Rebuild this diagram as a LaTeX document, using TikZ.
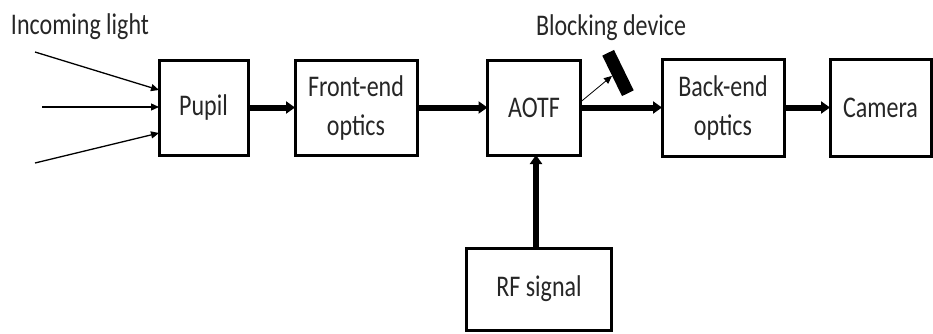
\documentclass[tikz,border=0pt]{standalone}
\usepackage{fontspec}
\setmainfont{Carlito}[FakeStretch=0.8]
\usetikzlibrary{arrows.meta}
\begin{document}
\begin{tikzpicture}[x=1pt,y=-1pt,
  blk/.style={draw=black,line width=3pt,minimum width=#1,inner sep=0pt,outer sep=0pt,align=center,font=\fontsize{30}{39}\selectfont,text=black!85},
  thick arr/.style={line width=6pt,-{Triangle[length=9pt,width=12pt]}},
  thin arr/.style={line width=1.3pt,-{Triangle[length=8pt,width=7pt]}},
  lbl/.style={font=\fontsize{30}{36}\selectfont,text=black!85,inner sep=0pt}]
\useasboundingbox (0,0) rectangle (933,333);
\node[blk=89pt,minimum height=95pt] (pupil) at (203.5,107.5) {Pupil};
\node[blk=122pt,minimum height=95pt] (front) at (356,107.5) {Front-end\\optics};
\node[blk=93pt,minimum height=95pt] (aotf) at (534,107.5) {AOTF};
\node[blk=122pt,minimum height=97pt] (back) at (723,107.5) {Back-end\\optics};
\node[blk=101pt,minimum height=97pt] (camera) at (880.5,107.5) {Camera};
\node[blk=145pt,minimum height=82pt] (rf) at (539,289) {RF signal};
\node[lbl] (inc) at (80,27) {Incoming light};
\node[lbl] (blab) at (611,28) {Blocking device};
\node[fill=black,minimum width=45pt,minimum height=13pt,inner sep=0pt,rotate=-64] (block) at (618,73) {};
\coordinate (s1) at (35,52);
\coordinate (s2) at (42,107);
\coordinate (s3) at (35,163);
\draw[thin arr] (s1) -- (pupil.west |- 0,90);
\draw[thin arr] (s2) -- (pupil.west |- 0,107);
\draw[thin arr] (s3) -- (pupil.west |- 0,133);
\draw[thick arr] (pupil.east) -- (front.west);
\draw[thick arr] (front.east) -- (aotf.west);
\draw[thick arr] (aotf.east) -- (back.west);
\draw[thick arr] (back.east) -- (camera.west);
\draw[thick arr] (rf.north -| 536,0) -- (aotf.south -| 536,0);
\draw[thin arr,line width=0.8pt] (aotf.east |- 0,102) -- (block.south);
\end{tikzpicture}
\end{document}
